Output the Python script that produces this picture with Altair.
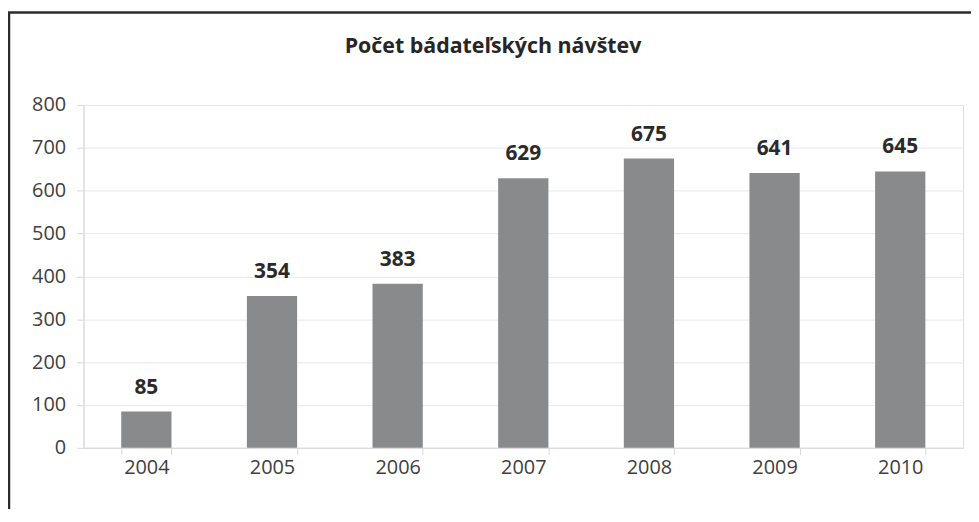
import altair as alt
import pandas as pd

years = ["2004", "2005", "2006", "2007", "2008", "2009", "2010"]
visits = [85, 354, 383, 629, 675, 641, 645]
y_ticks = [0, 100, 200, 300, 400, 500, 600, 700, 800]
title_text = "Počet bádateľských návštev"

FONT = "Open Sans"
df = pd.DataFrame({"year": years, "visits": visits})

x_enc = alt.X(
    "year:N",
    sort=years,
    scale=alt.Scale(paddingInner=0.6, paddingOuter=0.3),
    axis=alt.Axis(
        title=None, labelAngle=0, labelFont=FONT, labelFontSize=20,
        labelColor="#404040", labelPadding=3, domainColor="#d9d9d9",
        tickColor="#d9d9d9", tickSize=7, tickBand="extent", grid=False,
    ),
)
y_enc = alt.Y(
    "visits:Q",
    scale=alt.Scale(domain=[0, 800], nice=False),
    axis=alt.Axis(
        title=None, values=y_ticks, labelFont=FONT, labelFontSize=20,
        labelColor="#404040", labelPadding=11, domainColor="#d9d9d9",
        tickColor="#d9d9d9", tickSize=7, gridColor="#e8e8e8",
    ),
)

base = alt.Chart(df)
bars = base.mark_bar(color="#888a8c").encode(x=x_enc, y=y_enc)
labels = base.mark_text(
    font=FONT, fontSize=21, fontWeight="bold", color="#2a2a2a",
    baseline="alphabetic", dy=-18,
).encode(x=x_enc, y=y_enc, text="visits:Q")

frame_data = alt.Data(values=[{"k": 1}])
left_border = alt.Chart(frame_data).mark_rule(color="#2b2b2b", strokeWidth=2.5).encode(
    x=alt.value(-75), y=alt.value(-93), y2=alt.value(420)
)
top_border = alt.Chart(frame_data).mark_rule(color="#2b2b2b", strokeWidth=2.5).encode(
    x=alt.value(-76), x2=alt.value(900), y=alt.value(-93)
)

chart = alt.layer(left_border, top_border, bars, labels).properties(
    width=885,
    height=345,
    title=alt.TitleParams(
        text=title_text, font=FONT, fontSize=21.5, fontWeight="bold",
        color="#262626", anchor="middle", frame="bounds", offset=-46,
    ),
    autosize=alt.AutoSizeParams(type="none"),
    padding={"left": 76, "top": 96, "right": 8, "bottom": 60},
).configure_view(stroke=None).configure(background="white")

chart.save("out.html", embed_options={"renderer": "svg", "actions": False})
